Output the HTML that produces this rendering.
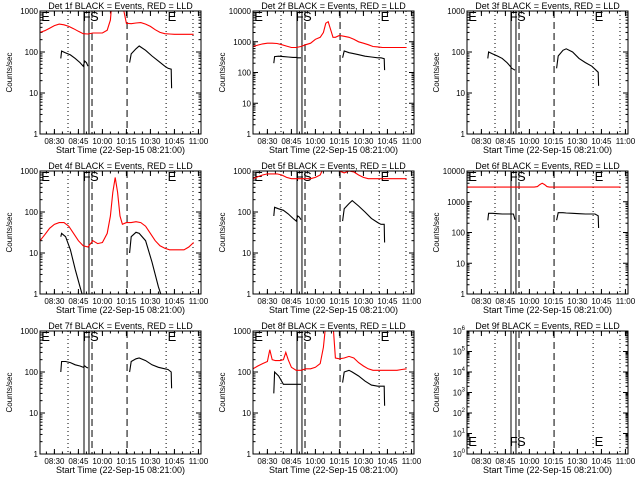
<!DOCTYPE html>
<html><head><meta charset="utf-8"><style>
html,body{margin:0;padding:0;background:#fff;}
svg{display:block;font-family:"Liberation Sans",sans-serif;}
</style></head><body>
<svg id="chart" width="640" height="480" viewBox="0 0 640 480"></svg>
<script>
// shared time axis (minutes after 09:21)
const xTickMinutes = [9,24,39,54,69,84,99];
const xTickLabels = ["08:30","08:45","10:00","10:15","10:30","10:45","11:00"];
const blackTimes = [13,13.5,16,19,22,25,27,28,29,30,null,56,57,60,62,66,70,74,78,80,82,82.2];
const eventLines = [17.5,27.5,30.6,32.5,54.4,78.8,95.6];
const eventStyles = ["dot","solid","solid","dash","dash","dot","dot"];
const markerLetters = ["E","F","S","E"];
const markerMinutes = [2,28,32.5,81];
const panelTitles = ["Det 1f","Det 2f","Det 3f","Det 4f","Det 5f","Det 6f","Det 7f","Det 8f","Det 9f"];
const panelDecades = [3,4,3,3,3,4,3,3,6];

const black1 = [70,105,95,85,70,55,45,60,55,45,null,55,90,120,140,110,80,60,45,40,38,13];
const black2 = [200,330,340,330,320,310,310,300,300,300,null,300,500,440,420,380,340,320,300,300,280,120];
const black3 = [70,100,90,80,70,55,45,40,38,36,null,40,80,110,120,100,70,55,45,38,32,15];
const black4 = [25,30,25,12,4,1.5,0.8,0.5,0.5,0.5,null,10,25,32,30,20,6,1.5,0.5,0.5,0.5,0.5];
const black5 = [80,130,120,110,90,70,60,80,75,65,null,60,120,160,190,140,100,70,55,50,50,18];
const black6 = [250,420,420,410,400,400,400,400,400,260,null,250,440,440,430,420,410,400,400,400,350,140];
const black7 = [100,180,180,170,150,140,130,140,130,125,null,100,180,210,220,190,150,130,120,115,100,40];
const black8 = [30,100,80,50,50,50,50,50,50,50,null,55,100,110,100,80,60,48,45,45,45,15];

const redTimes1 = [0,3,6,9,12,15,18,21,24,27,30,33,36,39,42,44,45.5,47,48.5,50,51.5,54,57,60,63,66,69,72,75,78,81,84,87,90,93,96];
const red1 = [300,330,380,440,480,460,420,370,320,280,275,290,290,290,340,600,3000,5000,5000,3000,1500,500,490,510,520,480,420,350,300,280,275,270,270,270,270,270];
const red2 = [700,780,850,900,900,880,800,720,650,650,700,800,900,1200,1400,2000,4000,4500,2500,1400,1400,1600,1500,1400,1200,1000,900,800,700,680,650,650,650,650,650,650];
const red4 = [20,28,40,50,55,55,45,30,20,15,14,20,17,18,30,80,300,700,300,80,50,55,55,58,55,45,30,20,15,13,12,12,12,12,14,18];
const red5 = [650,720,800,850,850,850,800,700,650,650,650,650,650,700,800,1200,3000,4000,3000,2000,1200,1000,900,1000,950,800,700,650,650,650,650,650,650,650,650,650];
const red6 = [3000,3000,3000,3000,3000,3000,3000,3000,3000,3000,3000,3000,3000,3000,3000,3100,3600,4000,3600,3100,3000,3000,3000,3000,3000,3000,3000,3000,3000,3000,3000,3000,3000,3000,3000,3000];
const redTimes8 = [0,3,6,9,10.5,12,14,17,19,20.5,22,24,27,30,33,36,39,42,44,45.5,47,48.5,50,51.5,54,57,60,63,66,69,72,75,78,81,84,87,90,93,96];
const red8 = [120,140,160,180,350,200,190,190,200,300,200,130,110,110,120,120,130,160,400,1500,3000,3000,1500,220,210,220,240,220,170,140,120,110,110,110,110,110,110,115,120];

const panelBlack = [black1,black2,black3,black4,black5,black6,black7,black8,null];
const panelRedT = [redTimes1,redTimes1,null,redTimes1,redTimes1,redTimes1,null,redTimes8,null];
const panelRed = [red1,red2,null,red4,red5,red6,null,red8,null];

const NS="http://www.w3.org/2000/svg";
const svg=document.getElementById('chart');
const colX=[40,253,467], rowY=[11,171,331], W=161, H=123, TMAX=100.6;
function mk(tag,attrs,parent){const e=document.createElementNS(NS,tag);for(const k in attrs)e.setAttribute(k,attrs[k]);(parent||svg).appendChild(e);return e;}

for(let p=0;p<9;p++){
  const x0=colX[p%3], y0=rowY[Math.floor(p/3)], dec=panelDecades[p];
  const g=mk('g',{});
  
  
  const xs=t=>x0+t/TMAX*W;
  const ys=v=>y0+H-Math.log10(v)/dec*H;
  const clipId='clip'+p;
  const cp=mk('clipPath',{id:clipId},g);mk('rect',{x:x0,y:y0,width:W,height:H},cp);
  const ti=mk('text',{x:x0+W/2,y:y0-2,'text-anchor':'middle','font-size':'9'},g);
  ti.textContent=panelTitles[p]+" BLACK = Events, RED = LLD";
  
  
  for(let d=0;d<=dec;d++){
    const yy=ys(Math.pow(10,d));
    mk('line',{x1:x0,x2:x0+5,y1:yy,y2:yy,stroke:'#000'},g);
    mk('line',{x1:x0+W-5,x2:x0+W,y1:yy,y2:yy,stroke:'#000'},g);
    const lb=mk('text',{x:x0-2,y:yy+3,'text-anchor':'end','font-size':'8'},g);
    if(p===8){lb.textContent='10';const s=mk('tspan',{dy:'-4','font-size':'6'},lb);s.textContent=String(d);}
    else lb.textContent=String(Math.pow(10,d));
    
    
    if(d<dec)for(let m=2;m<10;m++){const ym=ys(m*Math.pow(10,d));
      mk('line',{x1:x0,x2:x0+2.5,y1:ym,y2:ym,stroke:'#000'},g);
      mk('line',{x1:x0+W-2.5,x2:x0+W,y1:ym,y2:ym,stroke:'#000'},g);}
  }
  for(let i=0;i<xTickMinutes.length;i++){
    const xx=xs(xTickMinutes[i]);
    mk('line',{x1:xx,x2:xx,y1:y0+H,y2:y0+H-5,stroke:'#000'},g);
    mk('line',{x1:xx,x2:xx,y1:y0,y2:y0+5,stroke:'#000'},g);
    const lb=mk('text',{x:xx,y:y0+H+10,'text-anchor':'middle','font-size':'8'},g);
    lb.textContent=xTickLabels[i];
    
    
  }
  for(let t=4;t<TMAX;t+=5){const xx=xs(t);
    mk('line',{x1:xx,x2:xx,y1:y0+H,y2:y0+H-2.5,stroke:'#000'},g);
    mk('line',{x1:xx,x2:xx,y1:y0,y2:y0+2.5,stroke:'#000'},g);}
  const xl=mk('text',{x:x0+W/2,y:y0+H+19,'text-anchor':'middle','font-size':'9'},g);
  xl.textContent="Start Time (22-Sep-15 08:21:00)";
  
  
  const yl=mk('text',{x:0,y:0,'text-anchor':'middle','font-size':'8',transform:`translate(${x0-28},${y0+H/2}) rotate(-90)`},g);
  yl.textContent="Counts/sec";
  
  
  for(let i=0;i<eventLines.length;i++){
    const xx=xs(eventLines[i]);const st=eventStyles[i];
    const ln=mk('line',{x1:xx,x2:xx,y1:y0,y2:y0+H,stroke:'#000','stroke-width':1,'stroke-dasharray':st==='dot'?'1,3':(st==='dash'?'7,4':'none')},g);
    
    
  }
  for(let i=0;i<markerLetters.length;i++){
    const my=p===8?y0+H-8:y0+10;
    const tx=mk('text',{x:xs(markerMinutes[i])-2,y:my,'font-size':'13'},g);
    tx.textContent=markerLetters[i];
    
    
  }
  const dg=mk('g',{'clip-path':`url(#${clipId})`},g);
  if(panelRed[p]){
    const rt=panelRedT[p], rv=panelRed[p];let d='';
    for(let i=0;i<rt.length;i++)d+=(i?'L':'M')+xs(rt[i]).toFixed(1)+','+ys(rv[i]).toFixed(1);
    const pa=mk('path',{d:d,fill:'none',stroke:'#f00','stroke-width':1.1},dg);
    
    
  }
  if(panelBlack[p]){
    const bv=panelBlack[p];let d='',pen=false;
    for(let i=0;i<blackTimes.length;i++){
      if(blackTimes[i]===null||bv[i]===null){pen=false;continue;}
      d+=(pen?'L':'M')+xs(blackTimes[i]).toFixed(1)+','+ys(bv[i]).toFixed(1);pen=true;}
    const pa=mk('path',{d:d,fill:'none',stroke:'#000','stroke-width':1.1},dg);
    
    
  }
  const box=mk('rect',{x:x0,y:y0,width:W,height:H,fill:'none',stroke:'#000'},g);
  
  
}
</script>
</body></html>
